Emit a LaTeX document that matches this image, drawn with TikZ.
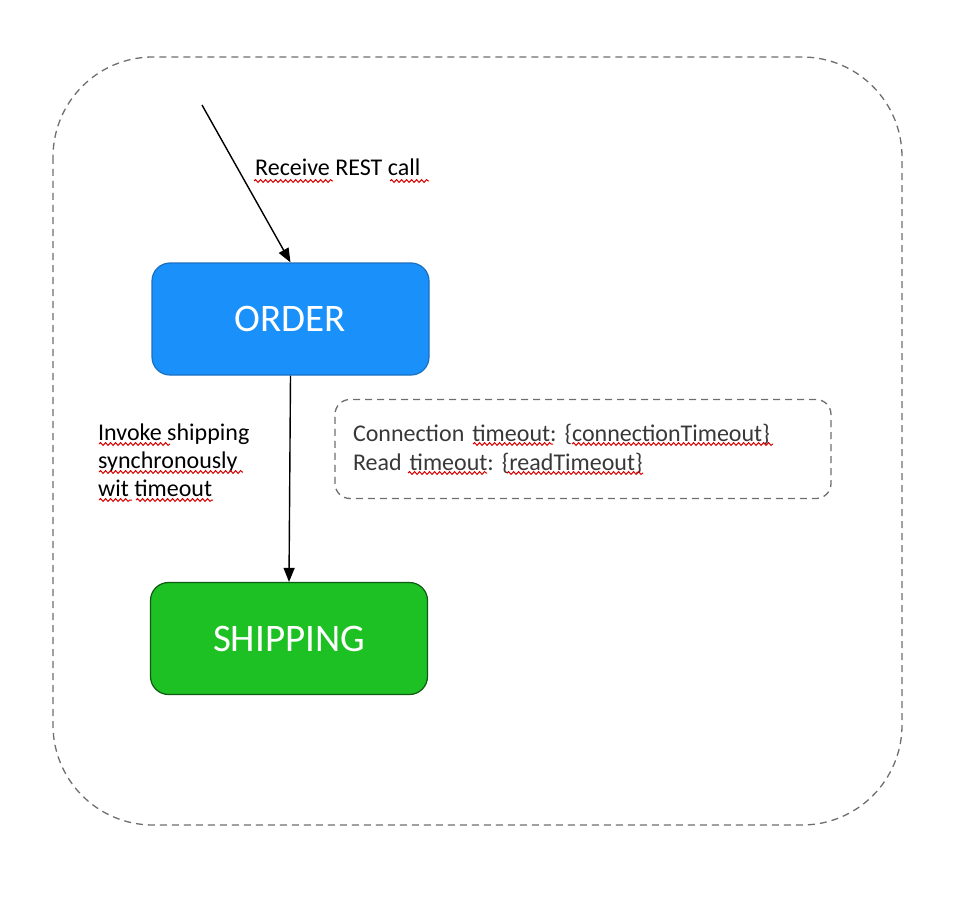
\documentclass[tikz,border=0pt]{standalone}
\usepackage{fontspec}
\setmainfont{Carlito}
\frenchspacing
\usetikzlibrary{arrows.meta,decorations.pathmorphing}
\definecolor{orderfill}{HTML}{1A91FA}
\definecolor{orderline}{HTML}{1B6FC0}
\definecolor{shipfill}{HTML}{1EC124}
\definecolor{shipline}{HTML}{0E5A12}
\definecolor{framegray}{HTML}{6E6E6E}
\definecolor{boxtext}{HTML}{383838}
\tikzset{
  statebox/.style={rounded corners=18pt, line width=1.2pt, text=white,
    font=\fontsize{39}{44}\selectfont, minimum width=277pt, minimum height=112pt, inner sep=0pt},
  arr/.style={line width=1.4pt, -{Triangle[length=14pt,width=11pt]}},
  lbl/.style={font=\fontsize{24}{28}\selectfont, align=left, inner sep=0pt},
  framebox/.style={draw=framegray, line width=1.3pt, dash pattern=on 7pt off 5pt},
  squig/.style={draw=red!85!black, line width=1pt, decorate,
    decoration={snake, amplitude=1.4pt, segment length=5pt}}
}
\newcommand\squigline[3]{\draw[squig] (#1,#3) -- (#2,#3);}
\begin{document}
\begin{tikzpicture}[x=1pt,y=-1pt]
\useasboundingbox (0,0) rectangle (974,904);
% outer frame
\draw[framebox, rounded corners=100pt] (53,57) rectangle (902,825);
% states
\node[statebox, fill=orderfill, draw=orderline] (order) at (290.5,319) {ORDER};
\node[statebox, fill=shipfill, draw=shipline] (shipping) at (289,638.5) {SHIPPING};
% params box
\node[framebox, rounded corners=15pt, minimum width=496pt, minimum height=99pt,
  text width=460pt, inner xsep=18pt, inner ysep=0pt, align=left, text=boxtext,
  font=\fontsize{24}{29}\selectfont] (params) at (583,449)
  {Connection timeout: \{connectionTimeout\}\\Read timeout: \{readTimeout\}};
% connectors
\coordinate (start) at (202,105);
\draw[arr] (start) -- (order.north);
\draw[arr] (order.south) -- (shipping.north);
% labels
\node[lbl, anchor=base west] (recv) at (255,176) {Receive REST call};
\node[lbl, anchor=north west] (invoke) at (98,423.5) {Invoke shipping\\synchronously\\wit timeout};
% spell-check squiggles
\squigline{254}{333}{181}
\squigline{390}{429}{181}
\squigline{99}{170}{444}
\squigline{99}{243}{472}
\squigline{99}{132}{500}
\squigline{136}{213}{500}
\squigline{473}{553}{444}
\squigline{572}{773}{444}
\squigline{408}{487}{473}
\squigline{507}{643}{473}
\end{tikzpicture}
\end{document}
